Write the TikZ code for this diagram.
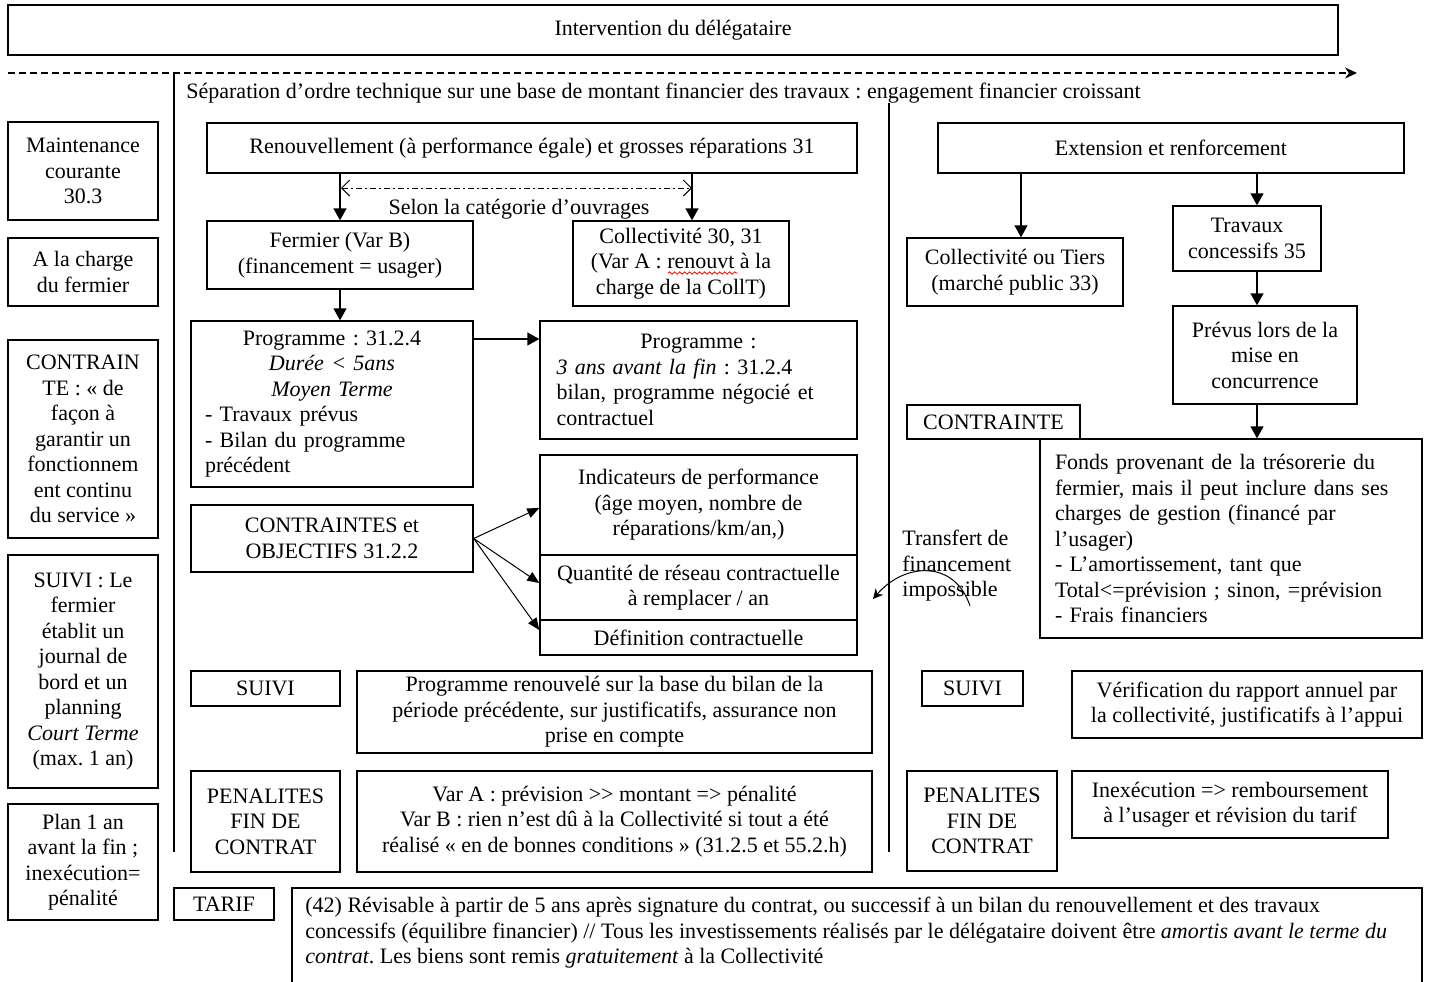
\documentclass[tikz,border=0pt]{standalone}
\usepackage{fontspec}
\setmainfont{Liberation Serif}
\usetikzlibrary{arrows.meta,decorations.pathmorphing}
\frenchspacing
\newcommand\mybox[7][]{%
  \pgfmathsetmacro\bxw{(#5-#3)*0.5}%
  \pgfmathsetmacro\bxh{(#6-#4)*0.5}%
  \pgfmathsetmacro\bxx{(#3+#5)/2}%
  \pgfmathsetmacro\bxy{(#4+#6)/2}%
  \node[box, minimum width=\bxw pt, minimum height=\bxh pt, #1] (#2) at (\bxx,\bxy) {#7};}
\begin{document}
\begin{tikzpicture}[x=0.5pt,y=-0.5pt,
  font=\fontsize{11}{12.75}\selectfont\frenchspacing,
  box/.style={draw, line width=0.7pt, inner sep=0pt, align=center},
  plain/.style={inner sep=0pt},
  ln/.style={line width=0.7pt},
  arr/.style={line width=0.7pt, -{Triangle[length=6pt,width=6.5pt]}},
  arrd/.style={line width=0.5pt, -{Triangle[length=6pt,width=5pt]}},
  ddarrow/.style={line width=0.5pt, dash pattern=on 3pt off 1.5pt on 1pt off 1.5pt, {Straight Barb[length=4pt,width=8pt]}-{Straight Barb[length=4pt,width=8pt]}},
  topdash/.style={line width=0.7pt, dash pattern=on 3.5pt off 2pt, -{Stealth[length=6pt,width=5.5pt]}}
]
\useasboundingbox (0,0) rectangle (1430,981);

% top
\mybox{top}{8}{5}{1338}{55}{Intervention du délégataire}
\coordinate (dA) at (8,73);
\coordinate (dB) at (1357,73);
\draw[topdash] (dA) -- (dB);

% separators
\coordinate (vL1) at (174,73);
\coordinate (vL2) at (174,852);
\coordinate (vM1) at (889,103);
\coordinate (vM2) at (889,852);
\draw[ln] (vL1) -- (vL2);
\draw[ln] (vM1) -- (vM2);

\node[plain, anchor=west] (sep) at (186,93) {Séparation d’ordre technique sur une base de montant financier des travaux : engagement financier croissant};

% left column
\mybox{maint}{8}{122}{158}{220}{Maintenance\\courante\\30.3}
\mybox{charge}{8}{238}{158}{306}{A la charge\\du fermier}
\mybox{contr}{8}{340}{158}{538}{CONTRAIN\\TE : « de\\façon à\\garantir un\\fonctionnem\\ent continu\\du service »}
\mybox{suiviL}{8}{555}{158}{788}{SUIVI : Le\\fermier\\établit un\\journal de\\bord et un\\planning\\\textit{Court Terme}\\(max. 1 an)}
\mybox{plan}{8}{804}{158}{920}{Plan 1 an\\avant la fin ;\\inexécution=\\pénalité}

% middle column
\mybox{renouv}{207}{123}{857}{173}{Renouvellement (à performance égale) et grosses réparations 31}
\mybox{fermier}{207}{221}{473}{289}{Fermier (Var B)\\(financement = usager)}
\mybox{coll}{573}{221}{789}{306}{Collectivité 30, 31\\(Var A : renouvt à la\\charge de la CollT)}
\node[plain] (selon) at (519,209) {Selon la catégorie d’ouvrages};
\mybox[align=left, text width=127pt]{prog}{191}{321}{473}{487}{{\centering Programme : 31.2.4\\\textit{Durée < 5ans}\\\textit{Moyen Terme}\par}- Travaux prévus\\- Bilan du programme\\précédent}
\mybox[align=left, text width=142pt]{prog2}{540}{321}{857}{439}{{\centering Programme :\par}\textit{3 ans avant la fin} : 31.2.4\\bilan, programme négocié et\\contractuel}
\mybox{cobj}{191}{505}{473}{572}{CONTRAINTES et\\OBJECTIFS 31.2.2}
\mybox{ind}{540}{455}{857}{555}{Indicateurs de performance\\(âge moyen, nombre de\\réparations/km/an,)}
\mybox{qty}{540}{555}{857}{620}{Quantité de réseau contractuelle\\à remplacer / an}
\mybox{def}{540}{620}{857}{655}{Définition contractuelle}
\mybox{suiviM}{191}{671}{340}{706}{SUIVI}
\mybox{progren}{357}{671}{872}{753}{Programme renouvelé sur la base du bilan de la\\période précédente, sur justificatifs, assurance non\\prise en compte}
\mybox{penM}{191}{771}{340}{872}{PENALITES\\FIN DE\\CONTRAT}
\mybox{varA}{357}{771}{872}{872}{Var A : prévision >{}> montant =>{} pénalité\\Var B : rien n’est dû à la Collectivité si tout a été\\réalisé « en de bonnes conditions » (31.2.5 et 55.2.h)}
\mybox{tarif}{174}{888}{274}{920}{TARIF}

% bottom box (open at the bottom)
\coordinate (bA) at (292,990);
\coordinate (bB) at (292,888);
\coordinate (bC) at (1422,888);
\coordinate (bD) at (1422,990);
\draw[ln] (bA) -- (bB) -- (bC) -- (bD);
\node[plain, anchor=west, align=left] (rev) at (305,933) {(42) Révisable à partir de 5 ans après signature du contrat, ou successif à un bilan du renouvellement et des travaux\\concessifs (équilibre financier) // Tous les investissements réalisés par le délégataire doivent être \textit{amortis avant le terme du}\\\textit{contrat}. Les biens sont remis \textit{gratuitement} à la Collectivité};

% right column
\mybox{ext}{938}{123}{1404}{173}{Extension et renforcement}
\mybox{ctiers}{907}{238}{1123}{306}{Collectivité ou Tiers\\(marché public 33)}
\mybox{trav}{1173}{206}{1321}{271}{Travaux\\concessifs 35}
\mybox{prevus}{1173}{306}{1357}{404}{Prévus lors de la\\mise en\\concurrence}
\mybox{contrR}{907}{405}{1080}{439}{CONTRAINTE}
\mybox[align=left, text width=176pt]{fonds}{1040}{439}{1422}{638}{Fonds provenant de la trésorerie du\\fermier, mais il peut inclure dans ses\\charges de gestion (financé par\\l’usager)\\- L’amortissement, tant que\\Total<=prévision ; sinon, =prévision\\- Frais financiers}
\node[plain, anchor=west, align=left] (transf) at (902,566) {Transfert de\\financement\\impossible};
\mybox{suiviR}{922}{671}{1023}{706}{SUIVI}
\mybox{verif}{1072}{671}{1422}{738}{Vérification du rapport annuel par\\la collectivité, justificatifs à l’appui}
\mybox{penR}{907}{771}{1057}{871}{PENALITES\\FIN DE\\CONTRAT}
\mybox{inex}{1072}{771}{1388}{838}{Inexécution =>{} remboursement\\à l’usager et révision du tarif}

% connectors
\coordinate (x692) at (692,0);
\coordinate (x1021) at (1021,0);
\coordinate (x1257) at (1257,0);
\coordinate (y339) at (0,339);
\draw[arr] (renouv.south -| fermier.north) -- (fermier.north);
\draw[arr] (renouv.south -| x692) -- (coll.north -| x692);
\coordinate (ddL) at (341,188);
\coordinate (ddR) at (692,188);
\draw[ddarrow] (ddL) -- (ddR);
\draw[arr] (fermier.south) -- (prog.north -| fermier.south);
\draw[arr] (prog.east |- y339) -- (prog2.west |- y339);
\draw[arrd] (cobj.east) -- ([yshift=-1.5pt]ind.west);
\draw[arrd] (cobj.east) -- ([yshift=2.25pt]qty.west);
\draw[arrd] (cobj.east) -- ([yshift=3.75pt]def.west);
\draw[arr] (ext.south -| x1021) -- (ctiers.north -| x1021);
\draw[arr] (ext.south -| x1257) -- (trav.north -| x1257);
\draw[arr] (trav.south -| x1257) -- (prevus.north -| x1257);
\draw[arr] (prevus.south -| x1257) -- (fonds.north -| x1257);

% curved arrow
\coordinate (cA) at (970,606);
\coordinate (cB) at (873,599);
\draw[line width=0.5pt, -{Stealth[length=5pt,width=5pt]}] (cA) .. controls (955,560) and (905,562) .. (cB);

% spell-check underline
\coordinate (wA) at (668,273);
\coordinate (wB) at (738,273);
\draw[red, line width=0.4pt, decorate, decoration={snake, amplitude=0.6pt, segment length=2.5pt}] (wA) -- (wB);
\end{tikzpicture}
\end{document}
